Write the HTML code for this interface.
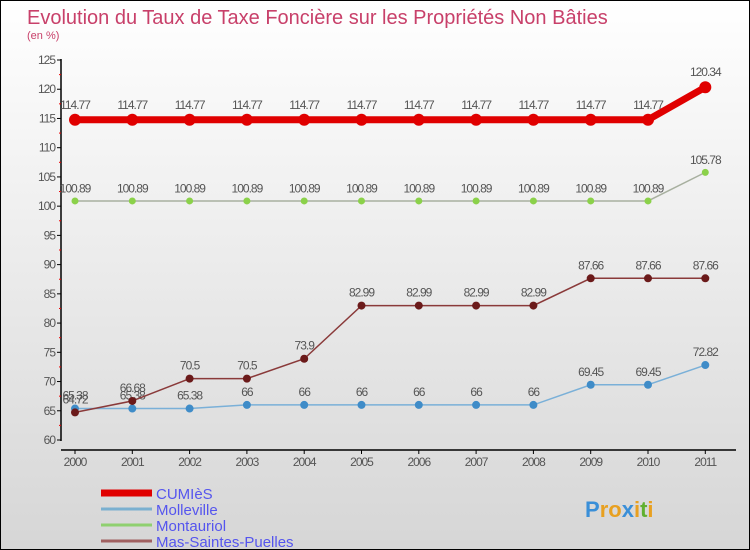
<!DOCTYPE html>
<html><head><meta charset="utf-8"><style>
body{margin:0}
#c{width:748px;height:548px;border:1px solid #000;background:linear-gradient(#fff,#d6d6d6);position:relative;font-family:"Liberation Sans",sans-serif;overflow:hidden}
</style></head><body>
<div id="c">
<svg id="s" width="748" height="548" xmlns="http://www.w3.org/2000/svg">
<text x="26" y="23" font-size="20" fill="#c8406a">Evolution du Taux de Taxe Foncière sur les Propriétés Non Bâties</text>
<text x="26" y="38" font-size="11" fill="#c8406a">(en %)</text>
<g id="g"></g>
</svg>
</div>
<script>
const years=["2000","2001","2002","2003","2004","2005","2006","2007","2008","2009","2010","2011"];
const yTicks=[60,65,70,75,80,85,90,95,100,105,110,115,120,125];
const cumies=[114.77,114.77,114.77,114.77,114.77,114.77,114.77,114.77,114.77,114.77,114.77,120.34];
const molleville=[65.38,65.38,65.38,66,66,66,66,66,66,69.45,69.45,72.82];
const montauriol=[100.89,100.89,100.89,100.89,100.89,100.89,100.89,100.89,100.89,100.89,100.89,105.78];
const mas=[64.72,66.68,70.5,70.5,73.9,82.99,82.99,82.99,82.99,87.66,87.66,87.66];
const names=["CUMIèS","Molleville","Montauriol","Mas-Saintes-Puelles"];
const NS="http://www.w3.org/2000/svg";
const g=document.getElementById('g');
const X=i=>74+i*57.3;
const Y=v=>439-(v-60)*(380/65);
function mk(t,a,txt){const e=document.createElementNS(NS,t);for(const k in a)e.setAttribute(k,a[k]);if(txt!==undefined)e.textContent=txt;g.appendChild(e);return e;}
let e;
e=mk('line',{x1:60,y1:58,x2:60,y2:440,stroke:'#000','stroke-width':1.5});


e=mk('line',{x1:60,y1:449,x2:735,y2:449,stroke:'#000','stroke-width':1.5});


yTicks.forEach((v,i)=>{
 mk('line',{x1:56,y1:Y(v),x2:60,y2:Y(v),stroke:'#000'});
 if(i<yTicks.length-1)mk('line',{x1:58,y1:Y(v+2.5),x2:60,y2:Y(v+2.5),stroke:'#e00'});
 e=mk('text',{x:54,y:Y(v)+4,'font-size':12,fill:'#555','text-anchor':'end','letter-spacing':'-1'},v);
 
 
});
years.forEach((y,i)=>{
 mk('line',{x1:X(i),y1:449,x2:X(i),y2:453,stroke:'#000'});
 e=mk('text',{x:X(i),y:465,'font-size':12,fill:'#555','text-anchor':'middle','letter-spacing':'-1'},y);
 
 
});
function series(d,lineCol,ptCol,w,r,nm){
 e=mk('polyline',{points:d.map((v,i)=>X(i)+','+Y(v)).join(' '),fill:'none',stroke:lineCol,'stroke-width':w});
 
 
 d.forEach((v,i)=>{
  e=mk('circle',{cx:X(i),cy:Y(v),r:r,fill:ptCol});
  
  
  e=mk('text',{x:X(i),y:Y(v)-(r+5),'font-size':12,fill:'#555','text-anchor':'middle','letter-spacing':'-1'},String(v));
  
  
 });
}
series(montauriol,'#a8b0a0','#8bd14a',1.5,3.5,'montauriol');
series(molleville,'#7ab0d8','#3f8cc8',1.5,4,'molleville');
series(mas,'#8a3a3a','#6b1a1a',1.5,4,'mas-saintes-puelles');
series(cumies,'#e00000','#e00000',7,6,'cumies');
const lc=['#e00000','#7ab0d0','#8fd070','#a06060'],lw=[7,3,3,3];
names.forEach((n,i)=>{
 const y=492+i*16;
 e=mk('line',{x1:100,y1:y,x2:151,y2:y,stroke:lc[i],'stroke-width':lw[i]});
 
 
 e=mk('text',{x:155,y:y+6,'font-size':15,fill:'#5555ee'},n);
 
 
});
e=mk('text',{x:584,y:516,'font-size':22,'font-weight':'bold',fill:'#e8a020'},'');


const lg=[['P','#3a8fd8'],['r','#e8a020'],['o','#e8a020'],['x','#3a8fd8'],['i','#e8a020'],['t','#60b030'],['i','#e8a020']];
lg.forEach(([ch,c])=>{const t=document.createElementNS(NS,'tspan');t.setAttribute('fill',c);t.textContent=ch;e.appendChild(t);});
</script>
</body></html>
